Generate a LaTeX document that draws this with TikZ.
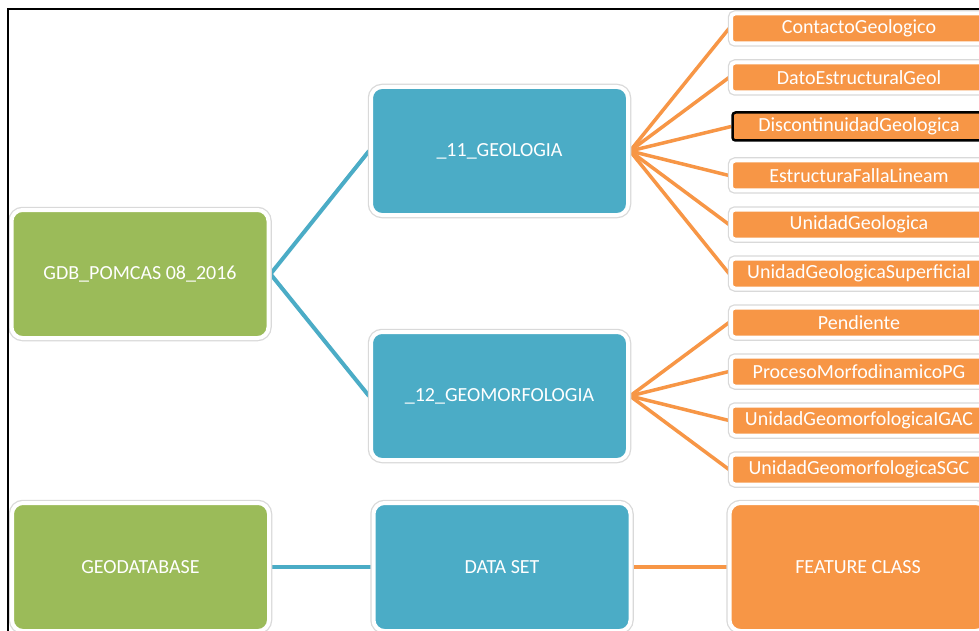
\documentclass[tikz,border=0pt]{standalone}
\usepackage{fontspec}
\setmainfont{Carlito}
\usetikzlibrary{backgrounds}
\definecolor{ogreen}{HTML}{9BBB59}
\definecolor{oblue}{HTML}{4BACC6}
\definecolor{oorange}{HTML}{F79646}
\begin{document}
\begin{tikzpicture}[x=1pt,y=-1pt,
  box/.style={rectangle, rounded corners=11pt, draw=white, line width=4pt,
    preaction={draw=black!15, line width=6.5pt},
    text=white, font=\fontsize{20}{24}\selectfont, inner sep=0pt,
    minimum width=257pt, minimum height=128pt},
  gbox/.style={box, fill=ogreen},
  bbox/.style={box, fill=oblue},
  obox/.style={box, fill=oorange},
  sbox/.style={box, fill=oorange, rounded corners=4pt, minimum width=256pt, minimum height=30pt},
  selbox/.style={rectangle, rounded corners=3pt, draw=black, line width=2.5pt, fill=oorange,
    text=white, font=\fontsize{20}{24}\selectfont, inner sep=0pt,
    minimum width=253pt, minimum height=28pt},
  bline/.style={draw=oblue, line width=4pt},
  oline/.style={draw=oorange, line width=3.5pt}]
\clip (0,0) rectangle (979,631);

\node[gbox] (gdb) at (140,274) {GDB\_POMCAS 08\_2016};
\node[bbox] (g11) at (499.5,151) {\_11\_GEOLOGIA};
\node[bbox] (g12) at (499.5,396) {\_12\_GEOMORFOLOGIA};

\node[sbox] (s1) at (859,28.5) {ContactoGeologico};
\node[sbox] (s2) at (859,77.5) {DatoEstructuralGeol};
\node[selbox] (s3) at (859,126.5) {DiscontinuidadGeologica};
\node[sbox] (s4) at (859,175.5) {EstructuraFallaLineam};
\node[sbox] (s5) at (859,224.5) {UnidadGeologica};
\node[sbox] (s6) at (859,273.5) {UnidadGeologicaSuperficial};
\node[sbox] (s7) at (859,322.5) {Pendiente};
\node[sbox] (s8) at (859,371.5) {ProcesoMorfodinamicoPG};
\node[sbox] (s9) at (859,420.5) {UnidadGeomorfologicaIGAC};
\node[sbox] (s10) at (859,469.5) {UnidadGeomorfologicaSGC};

\node[gbox] (gdbase) at (140.5,567) {GEODATABASE};
\node[bbox] (ds) at (502,567) {DATA SET};
\node[obox] (fc) at (858,567) {FEATURE CLASS};

\begin{scope}[on background layer]
  \fill[white] (0,0) rectangle (979,631);
  \draw[bline] (gdb.east) -- (g11.west);
  \draw[bline] (gdb.east) -- (g12.west);
  \foreach \i in {1,...,6} \draw[oline] (g11.east) -- (s\i.west);
  \foreach \i in {7,...,10} \draw[oline] (g12.east) -- (s\i.west);
  \draw[bline] (gdbase.east) -- (ds.west);
  \draw[oline, line width=4pt] (ds.east) -- (fc.west);
\end{scope}

\draw[line width=2pt] (8.3,631) -- (8.3,9.3) -- (979,9.3);
\end{tikzpicture}
\end{document}
